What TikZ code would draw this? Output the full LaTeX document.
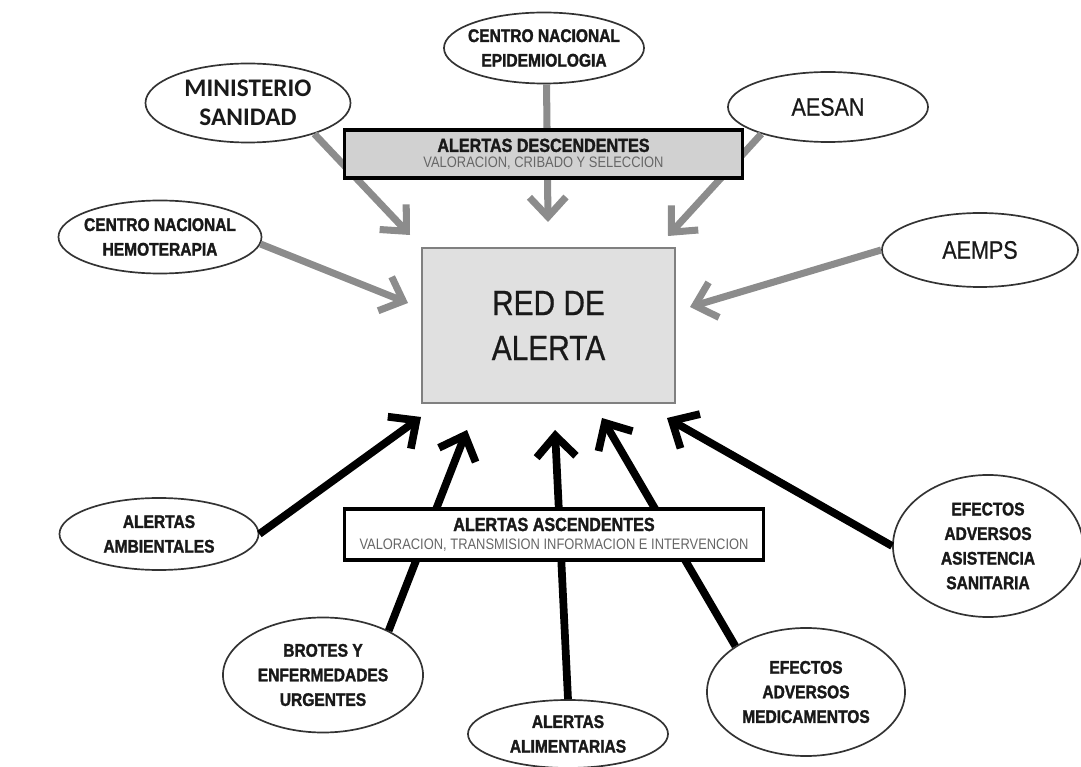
\documentclass[tikz,border=0pt]{standalone}
\usepackage{fontspec}
\setmainfont{Liberation Sans}
\newfontfamily\narrowfont[FakeStretch=0.85,FakeBold=0.6,BoldFeatures={FakeBold=1.6}]{Liberation Sans}
\newfontfamily\thinfont[FakeStretch=0.85]{Liberation Sans}
\newfontfamily\calfont{Carlito}
\usetikzlibrary{shapes.geometric}
\usetikzlibrary{arrows.meta}
\definecolor{grisflecha}{gray}{0.55}
\definecolor{grisred}{gray}{0.88}
\definecolor{grisbanda}{gray}{0.82}
\definecolor{tinta}{gray}{0.1}
\tikzset{red node/.style={shape=rectangle,
    draw=black!50, line width=1.3pt, fill=grisred, align=center, text=tinta,
    font=\narrowfont\fontsize{25}{32}\selectfont,
    minimum width=6.325cm, minimum height=3.875cm}}
\tikzset{band node/.style={shape=rectangle,
    draw=black, line width=2.2pt, align=center, inner sep=0pt, text=tinta}}
\tikzset{source node/.style={shape=ellipse,
    draw=black!80, line width=1.2pt, fill=white, align=center, inner sep=-4pt,
    text=tinta, font=\narrowfont\bfseries\fontsize{13}{17.5}\selectfont}}
\tikzset{down arrow/.style={draw=grisflecha, line width=5pt,
    -{Straight Barb[length=14pt,width=26pt]}}}
\tikzset{up arrow/.style={draw=black, line width=5.5pt,
    -{Straight Barb[length=15pt,width=28pt]}}}

\begin{document}
\begin{tikzpicture}[x=0.025cm,y=-0.025cm]
    \useasboundingbox (0,0) rectangle (1081,767);

    % fuentes de arriba
    \node[source node, minimum width=5.125cm, minimum height=1.975cm,
          font=\calfont\bfseries\fontsize{18}{21}\selectfont] (2) at (248,103) {MINISTERIO\\SANIDAD};
    \node[source node, minimum width=5cm, minimum height=1.775cm] (3) at (544,48) {CENTRO NACIONAL\\EPIDEMIOLOGIA};
    \node[source node, minimum width=5cm, minimum height=1.75cm,
          font=\narrowfont\fontsize{18}{21}\selectfont] (4) at (828,107) {AESAN};
    \node[source node, minimum width=5.075cm, minimum height=1.825cm] (5) at (160,237) {CENTRO NACIONAL\\HEMOTERAPIA};
    \node[source node, minimum width=4.9cm, minimum height=1.85cm,
          font=\narrowfont\fontsize{18}{21}\selectfont] (6) at (980,250) {AEMPS};

    % fuentes de abajo
    \node[source node, minimum width=4.975cm, minimum height=1.8cm] (7) at (159,534) {ALERTAS\\AMBIENTALES};
    \node[source node, minimum width=5cm, minimum height=2.875cm] (8) at (323,675) {BROTES Y\\ENFERMEDADES\\URGENTES};
    \node[source node, minimum width=5cm, minimum height=1.7cm] (9) at (568,734) {ALERTAS\\ALIMENTARIAS};
    \node[source node, minimum width=4.95cm, minimum height=3.2cm] (10) at (806,692) {EFECTOS\\ADVERSOS\\MEDICAMENTOS};
    \node[source node, minimum width=4.75cm, minimum height=3.55cm] (11) at (988,546) {EFECTOS\\ADVERSOS\\ASISTENCIA\\SANITARIA};

    \coordinate (t2) at (410,235);
    \coordinate (t3) at (548,222);
    \coordinate (t4) at (668,236);
    \coordinate (t5) at (408,303);
    \coordinate (t6) at (690,307);
    \coordinate (t7) at (421,417);
    \coordinate (t8) at (467,430);
    \coordinate (t9) at (555,430);
    \coordinate (t10) at (602,418);
    \coordinate (t11) at (667,418);

    \path
    (2.-25) edge[down arrow] (t2)
    (3.-86) edge[down arrow] (t3)
    (4.-158) edge[down arrow] (t4)
    (5.-4) edge[down arrow] (t5)
    (6.west) edge[down arrow] (t6)
    ;
    \path
    (7.east) edge[up arrow] (t7)
    (8.34) edge[up arrow] (t8)
    (9.north) edge[up arrow] (t9)
    (10.147) edge[up arrow] (t10)
    (11.west) edge[up arrow] (t11)
    ;

    % bandas y red
    \node[band node, fill=grisbanda, minimum width=9.925cm, minimum height=1.2cm] (12) at (543.5,154)
        {{\narrowfont\bfseries\fontsize{13.5}{14}\selectfont ALERTAS DESCENDENTES}\\[-1pt]
         {\thinfont\fontsize{10.8}{12}\selectfont\color{black!60}VALORACION, CRIBADO Y SELECCION}};
    \node[band node, fill=white, minimum width=10.45cm, minimum height=1.275cm] (13) at (554,534.5)
        {{\narrowfont\bfseries\fontsize{13.5}{14}\selectfont ALERTAS ASCENDENTES}\\[1pt]
         {\thinfont\fontsize{10.8}{12}\selectfont\color{black!60}VALORACION, TRANSMISION INFORMACION E INTERVENCION}};
    \node[red node] (1) at (548.5,325.5) {RED DE\\ALERTA};
\end{tikzpicture}
\end{document}
